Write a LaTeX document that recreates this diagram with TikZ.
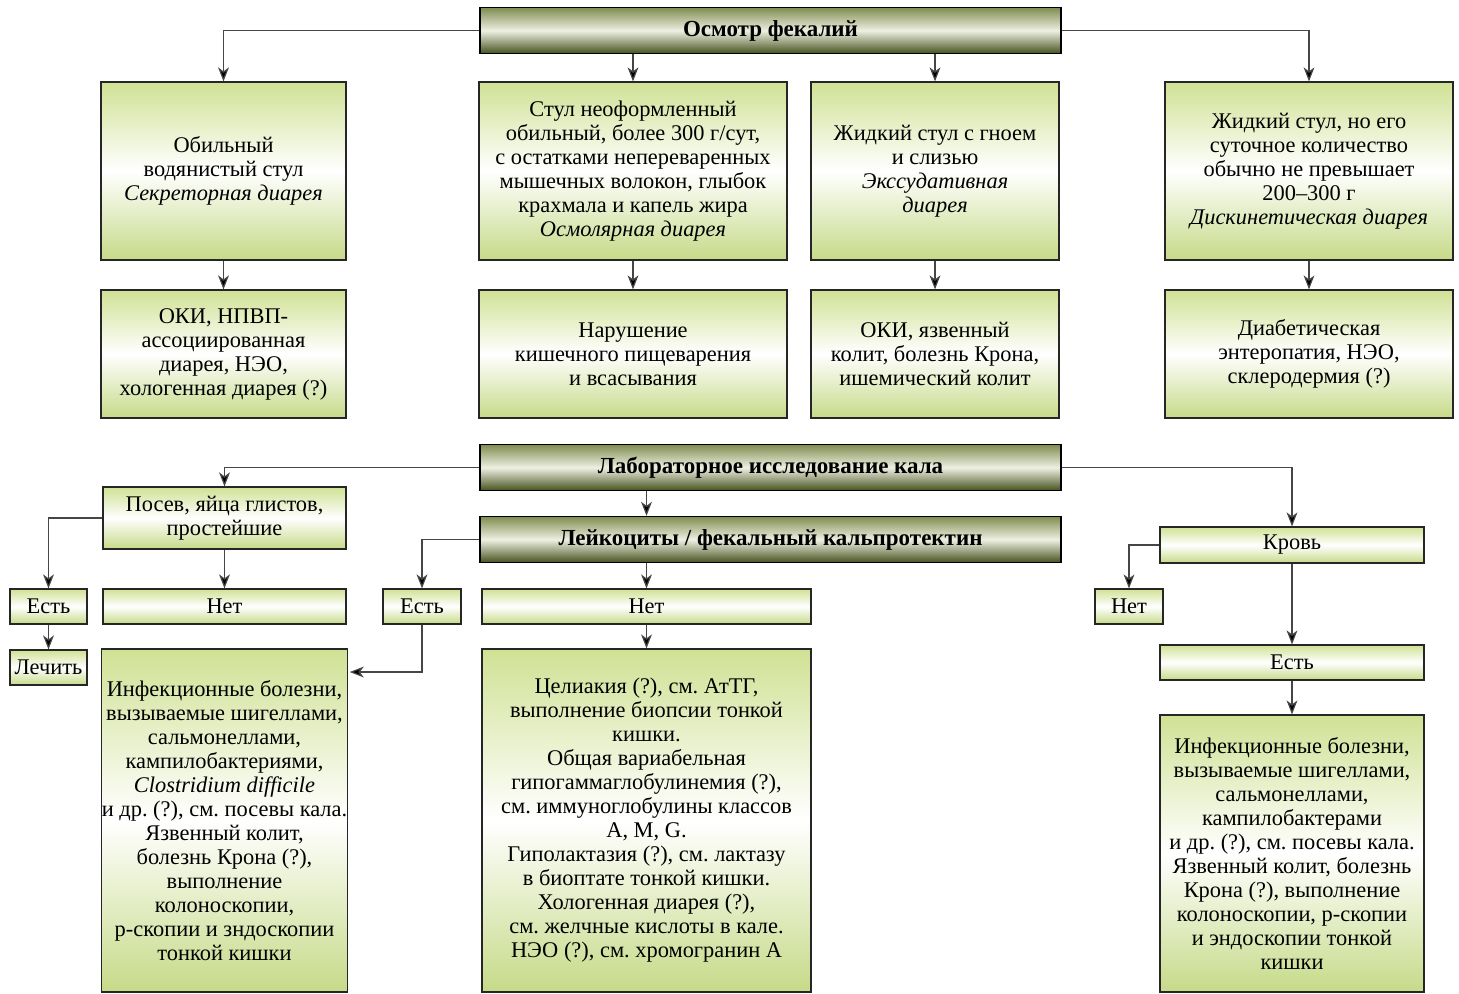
\documentclass[tikz,border=0pt]{standalone}
\usepackage{fontspec}
\setmainfont{Liberation Serif}
\usetikzlibrary{arrows.meta}
\frenchspacing

\definecolor{boxtop}{RGB}{208,225,148}
\definecolor{boxbot}{RGB}{198,218,136}
\definecolor{hdrtop}{RGB}{128,140,80}
\definecolor{hdrmid}{RGB}{238,240,226}
\definecolor{hdrbot}{RGB}{70,82,30}
\definecolor{linegray}{RGB}{70,70,70}

\begin{document}
\begin{tikzpicture}[x=0.5pt,y=-0.5pt,
  box/.style={draw=black!85, line width=0.6pt, top color=boxtop, bottom color=boxbot,
    middle color=white, align=center, inner xsep=0pt, inner ysep=1pt,
    font=\fontsize{11.2}{12}\selectfont},
  hdr/.style={draw=black, line width=0.7pt, top color=hdrtop, bottom color=hdrbot,
    middle color=hdrmid, align=center, font=\fontsize{11.5}{12}\selectfont\bfseries,
    minimum width=290.5pt, minimum height=23pt},
  sz/.style 2 args={minimum width=#1*0.5pt, minimum height=#2*0.5pt},
  arr/.style={draw=linegray, line width=0.6pt, -{Stealth[length=7pt,width=5.4pt,inset=2pt,fill=black]}}]
\useasboundingbox (0,0) rectangle (1459,993);

\node[hdr] (exam) at (770.5,30.5) {Осмотр фекалий};

\node[box, sz={245}{178}] (secr) at (223.5,171)
  {Обильный\\водянистый стул\\\textit{Секреторная диарея}};
\node[box, sz={308}{178}] (osmo) at (633,171)
  {Стул неоформленный\\обильный, более 300 г/сут,\\с остатками непереваренных\\мышечных волокон, глыбок\\крахмала и капель жира\\\textit{Осмолярная диарея}};
\node[box, sz={248}{178}] (exsu) at (935,171)
  {Жидкий стул с гноем\\и слизью\\\textit{Экссудативная}\\\textit{диарея}};
\node[box, sz={288}{178}] (disk) at (1309,171)
  {Жидкий стул, но его\\суточное количество\\обычно не превышает\\200–300 г\\\textit{Дискинетическая диарея}};

\node[box, sz={245}{128}] (secrc) at (223.5,354)
  {ОКИ, НПВП-\\ассоциированная\\диарея, НЭО,\\хологенная диарея (?)};
\node[box, sz={308}{128}] (osmoc) at (633,354)
  {Нарушение\\кишечного пищеварения\\и всасывания};
\node[box, sz={248}{128}] (exsuc) at (935,354)
  {ОКИ, язвенный\\колит, болезнь Крона,\\ишемический колит};
\node[box, sz={288}{128}] (diskc) at (1309,354)
  {Диабетическая\\энтеропатия, НЭО,\\склеродермия (?)};

\node[hdr] (lab) at (770.5,467.5) {Лабораторное исследование кала};
\node[hdr] (leuk) at (770.5,539.5) {Лейкоциты / фекальный кальпротектин};

\node[box, sz={243}{62}] (cult) at (224.5,518) {Посев, яйца глистов,\\простейшие};
\node[box, sz={77}{35}] (cultyes) at (48.5,606.5) {Есть};
\node[box, sz={243}{35}] (cultno) at (224.5,606.5) {Нет};
\node[box, sz={77}{35}] (treat) at (48.5,667.5) {Лечить};

\node[box, sz={78}{35}] (leukyes) at (422,606.5) {Есть};
\node[box, sz={329}{35}] (leukno) at (646.5,606.5) {Нет};

\node[box, sz={243}{343}] (infl) at (224.5,820.5)
  {Инфекционные болезни,\\вызываемые шигеллами,\\сальмонеллами,\\кампилобактериями,\\\textit{Clostridium difficile}\\и др. (?), см. посевы кала.\\Язвенный колит,\\болезнь Крона (?),\\выполнение\\колоноскопии,\\р-скопии и зндоскопии\\тонкой кишки};
\node[box, sz={329}{343}] (malab) at (646.5,820.5)
  {Целиакия (?), см. АтТГ,\\выполнение биопсии тонкой\\кишки.\\Общая вариабельная\\гипогаммаглобулинемия (?),\\см. иммуноглобулины классов\\A, M, G.\\Гиполактазия (?), см. лактазу\\в биоптате тонкой кишки.\\Хологенная диарея (?),\\см. желчные кислоты в кале.\\НЭО (?), см. хромогранин А};

\node[box, sz={264}{36}] (blood) at (1292,545) {Кровь};
\node[box, sz={68}{35}] (bloodno) at (1129,606.5) {Нет};
\node[box, sz={264}{35}] (bloodyes) at (1292,662.5) {Есть};
\node[box, sz={264}{277}] (infr) at (1292,853.5)
  {Инфекционные болезни,\\вызываемые шигеллами,\\сальмонеллами,\\кампилобактерами\\и др. (?), см. посевы кала.\\Язвенный колит, болезнь\\Крона (?), выполнение\\колоноскопии, р-скопии\\и эндоскопии тонкой\\кишки};

\draw[arr] (exam.west) -| (secr.north);
\draw[arr] (exam.east) -| (disk.north);
\draw[arr] (osmo.north |- exam.south) -- (osmo.north);
\draw[arr] (exsu.north |- exam.south) -- (exsu.north);
\draw[arr] (secr) -- (secrc);
\draw[arr] (osmo) -- (osmoc);
\draw[arr] (exsu) -- (exsuc);
\draw[arr] (disk) -- (diskc);

\draw[arr] (lab.west) -| (cult.north);
\draw[arr] (lab.east) -| (blood.north);
\draw[arr] (leukno.north |- lab.south) -- (leukno.north |- leuk.north);
\draw[arr] (cult.west) -| (cultyes.north);
\draw[arr] (cult) -- (cultno);
\draw[arr] (cultyes) -- (treat);
\draw[arr] (leuk.west) -| (leukyes.north);
\draw[arr] (leukyes.south) |- ([xshift=1pt]infl.east |- 0,672);
\draw[arr] (leukno.north |- leuk.south) -- (leukno.north);
\draw[arr] (leukno) -- (malab);
\draw[arr] (blood.west) -| (bloodno.north);
\draw[arr] (blood) -- (bloodyes);
\draw[arr] (bloodyes) -- (infr);
\end{tikzpicture}
\end{document}
